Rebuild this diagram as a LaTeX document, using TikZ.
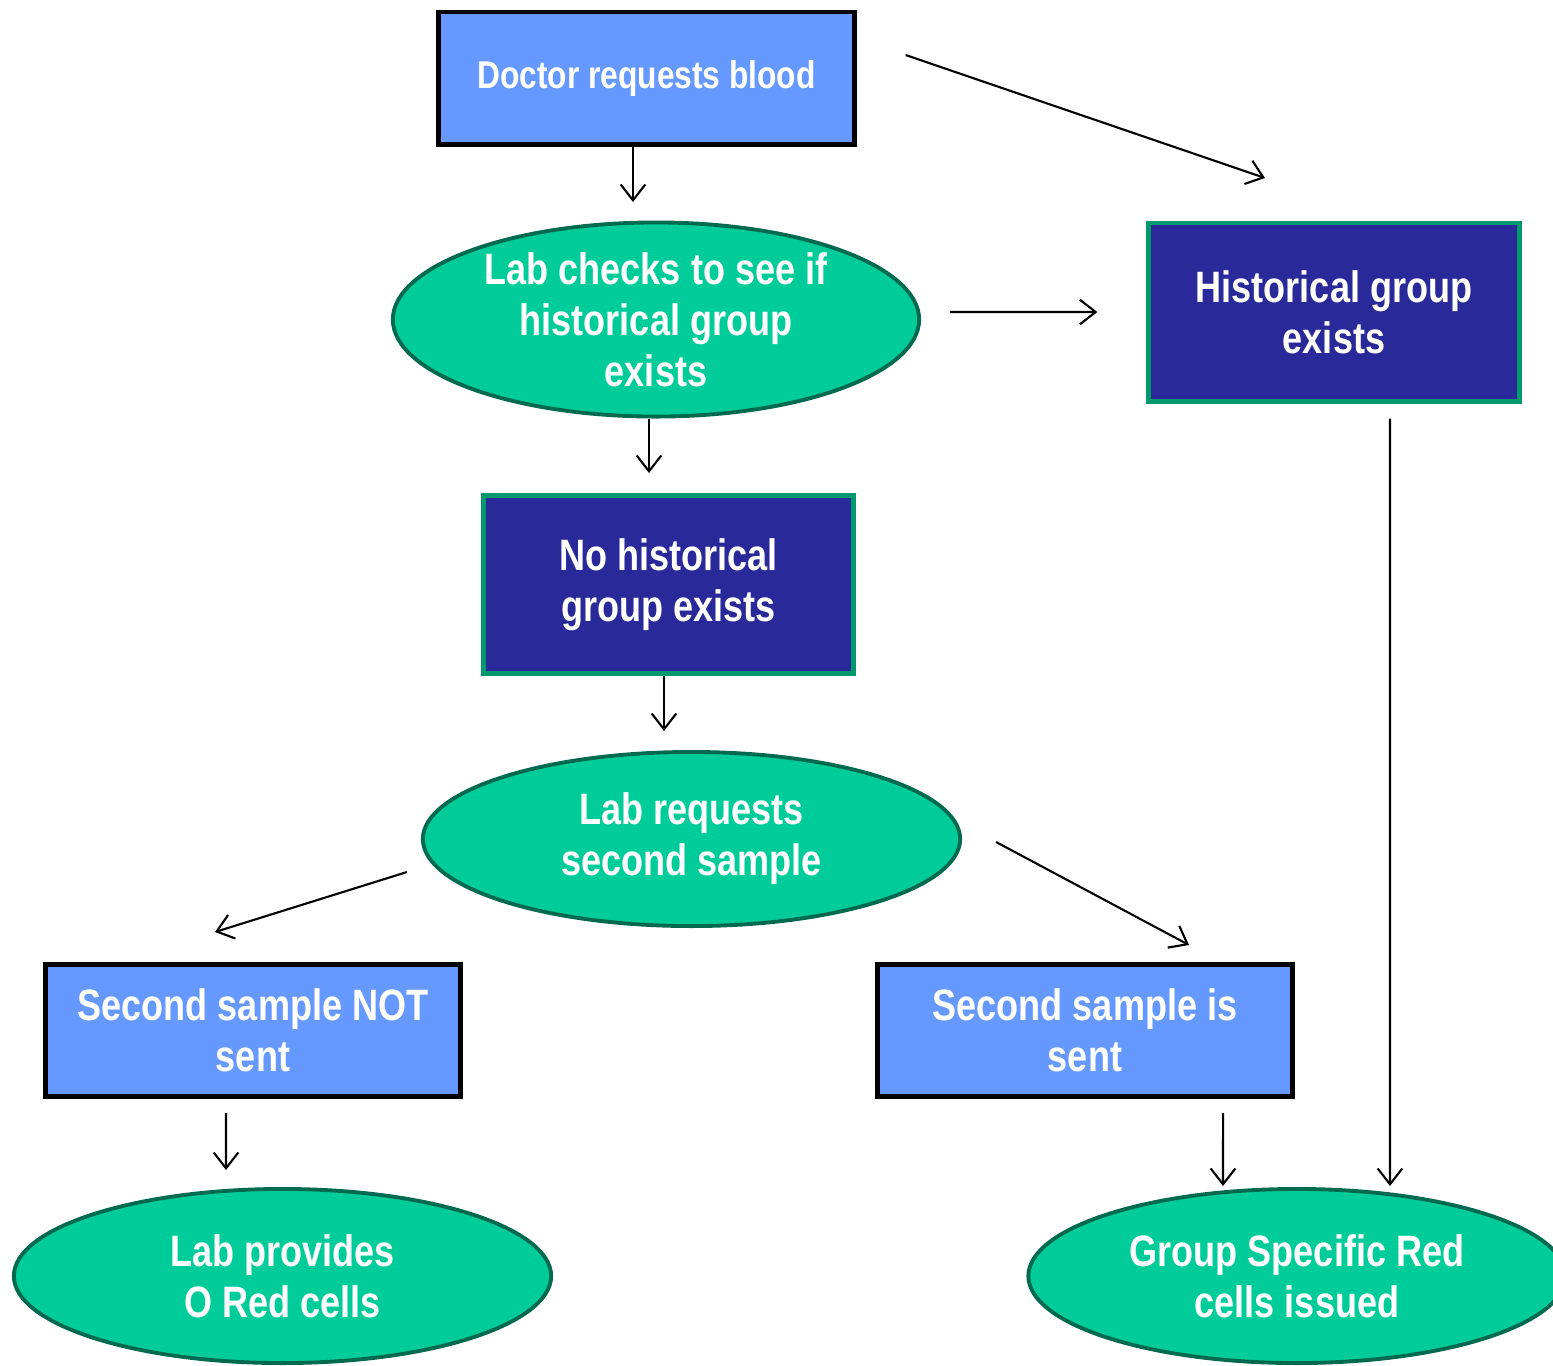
\documentclass[tikz,border=0pt]{standalone}
\usepackage{fontspec}
\setsansfont{Liberation Sans}[FakeStretch=0.82]
\usepackage{tikz}
\usetikzlibrary{shapes.geometric,arrows.meta}

\definecolor{lightbox}{HTML}{6699FF}
\definecolor{darkbox}{HTML}{29299A}
\definecolor{tealfill}{HTML}{00CC99}
\definecolor{tealline}{HTML}{006A50}
\definecolor{greenline}{HTML}{00996E}

\begin{document}
\begin{tikzpicture}[
    x=0.01cm, y=-0.01cm,
    txt/.style={
        text=white,
        align=center,
        font=\sffamily\bfseries\fontsize{12.5}{14.5}\selectfont
    },
    lightbox/.style={
        txt,
        draw=black,
        fill=lightbox,
        line width=1.4pt,
        minimum width=4.15cm,
        minimum height=1.32cm
    },
    darkbox/.style={
        txt,
        draw=greenline,
        fill=darkbox,
        line width=1.4pt,
        minimum width=3.70cm,
        minimum height=1.78cm
    },
    oval/.style={
        txt,
        ellipse,
        draw=tealline,
        fill=tealfill,
        line width=1.1pt,
        inner sep=0pt,
        minimum width=5.37cm,
        minimum height=1.74cm
    },
    arrow/.style={-{Straight Barb[length=4.5pt,width=7pt]},line width=0.6pt}
]

\useasboundingbox (0,0) rectangle (1553,1365);

% Fila 1
\node[lightbox, font=\sffamily\bfseries\fontsize{11}{13}\selectfont] (doctor) at (646.5,78) {Doctor requests blood};

% Fila 2
\node[oval, minimum width=5.26cm, minimum height=1.94cm] (labcheck) at (656,319.5) {Lab checks to see if\\historical group\\exists};
\node[darkbox] (hist) at (1334,312) {Historical group\\exists};

% Fila 3
\node[darkbox] (nohist) at (668.5,584.5) {No historical\\group exists};

% Fila 4
\node[oval] (labreq) at (691.5,839) {Lab requests\\second sample};

% Fila 5
\node[lightbox] (notsent) at (253,1030.5) {Second sample NOT\\sent};
\node[lightbox] (issent) at (1085,1030.5) {Second sample is\\sent};

% Fila 6
\node[oval] (oredcells) at (282.5,1276) {Lab provides\\O Red cells};
\node[oval] (groupcells) at (1297,1276) {Group Specific Red\\cells issued};

% Puntas
\coordinate (t1) at (633,202);
\coordinate (t2) at (1265,178);
\coordinate (t4) at (649,473);
\coordinate (t5) at (664,731);
\coordinate (t6) at (215,932);
\coordinate (t7) at (1189,945);
\coordinate (t8) at (226,1170);
\coordinate (t9) at (1223,1186);
\coordinate (t10) at (1390,1186);

% Flechas
\draw[arrow] (doctor.south -| t1) -- (t1);
\draw[arrow] ([xshift=0.49cm,yshift=0.23cm]doctor.east) -- (t2);

\draw[arrow] ([xshift=0.29cm,yshift=0.075cm]labcheck.east) -- ([xshift=-0.49cm]hist.west);
\draw[arrow] (labcheck.south -| t4) -- (t4);

\draw[arrow] (nohist.south -| t5) -- (t5);

\draw[arrow] ([xshift=-0.14cm,yshift=-0.33cm]labreq.west) -- (t6);
\draw[arrow] ([xshift=0.34cm,yshift=-0.03cm]labreq.east) -- (t7);

\draw[arrow] ([xshift=-0.27cm,yshift=-0.14cm]notsent.south) -- (t8);
\draw[arrow] ([xshift=1.38cm,yshift=-0.14cm]issent.south) -- (t9);

\draw[arrow] ([xshift=0.56cm,yshift=-0.15cm]hist.south) -- (t10);

\end{tikzpicture}
\end{document}
